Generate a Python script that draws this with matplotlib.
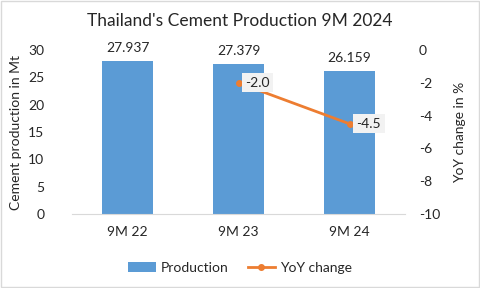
import matplotlib
matplotlib.use("Agg")
import matplotlib.pyplot as plt
import numpy as np

categories = ["9M 22", "9M 23", "9M 24"]
production = [27.937, 27.379, 26.159]
yoy_categories = ["9M 23", "9M 24"]
yoy_change = [-2.0, -4.5]

BAR_COLOR = "#5B9BD5"
LINE_COLOR = "#ED7D31"
TEXT_COLOR = "#262626"

plt.rcParams["font.family"] = ["Lato", "DejaVu Sans"]
plt.rcParams["axes.unicode_minus"] = False

fig = plt.figure(figsize=(4.8, 2.88), dpi=100)
ax = fig.add_axes([0.15, 0.257, 0.694, 0.569])
x = np.arange(len(categories))
ax.bar(x, production, width=0.46, color=BAR_COLOR, label="Production", zorder=2)
for xi, v in zip(x, production):
    ax.text(xi, v + 1.3, f"{v:.3f}", ha="center", va="bottom", fontsize=10, color=TEXT_COLOR)

ax.set_xlim(-0.5, len(categories) - 0.5)
ax.set_ylim(0, 30)
ax.set_yticks(range(0, 31, 5))
ax.set_xticks(x)
ax.set_xticklabels(categories)
ax.tick_params(length=0, labelsize=10, colors=TEXT_COLOR, pad=9)
ax.tick_params(axis="y", pad=20)
for s in ["top", "right", "left"]:
    ax.spines[s].set_visible(False)
ax.spines["bottom"].set_color("#D9D9D9")
ax.set_ylabel("Cement production in Mt", fontsize=10, color=TEXT_COLOR, labelpad=4)

ax2 = ax.twinx()
xi_yoy = [categories.index(c) for c in yoy_categories]
ax2.plot(xi_yoy, yoy_change, color=LINE_COLOR, lw=2, marker="o", ms=4, label="YoY change", zorder=3)
for xi, v in zip(xi_yoy, yoy_change):
    ax2.annotate(f"{v:.1f}", (xi, v), xytext=(5, 0), textcoords="offset points",
                 ha="left", va="center", fontsize=10, color=TEXT_COLOR,
                 bbox=dict(boxstyle="square,pad=0.25", fc="#F2F2F2", ec="none"))
ax2.set_ylim(-10, 0)
ax2.set_yticks(range(-10, 1, 2))
ax2.tick_params(length=0, labelsize=10, colors=TEXT_COLOR, pad=10)
for s in ax2.spines.values():
    s.set_visible(False)
ax2.set_ylabel("YoY change in %", fontsize=10, color=TEXT_COLOR, labelpad=10)

fig.suptitle("Thailand's Cement Production 9M 2024", fontsize=12.5, color=TEXT_COLOR, y=0.955)

h1, l1 = ax.get_legend_handles_labels()
h2, l2 = ax2.get_legend_handles_labels()
fig.legend(h1 + h2, l1 + l2, loc="lower center", bbox_to_anchor=(0.5, 0.005), ncol=2,
           frameon=False, fontsize=10, handlelength=2.0, handletextpad=0.3,
           columnspacing=1.4, labelcolor=TEXT_COLOR)

fig.patches.append(plt.Rectangle((0.002, 0.003), 0.996, 0.994, transform=fig.transFigure,
                                 fill=False, ec="#D9D9D9", lw=1))
fig.savefig("out.png", dpi=100)
